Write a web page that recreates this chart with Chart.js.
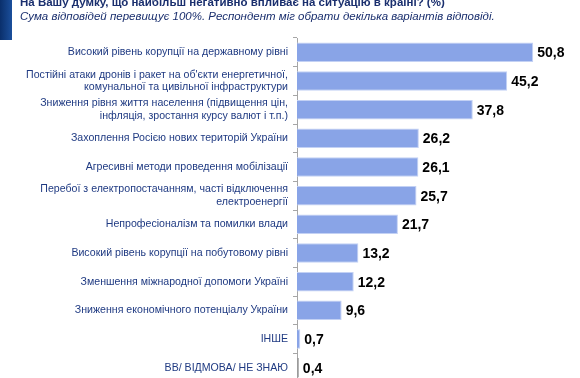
<!DOCTYPE html>
<html>
<head>
<meta charset="utf-8">
<script src="https://cdn.jsdelivr.net/npm/chart.js@4"></script>
<style>
    html, body { margin: 0; padding: 0; background: #fff; overflow: hidden; }
    body { width: 580px; height: 378px; position: relative; font-family: "Liberation Sans", Arial, sans-serif; }
    .band { position: absolute; left: 0; top: 0; width: 12px; height: 40px; background: linear-gradient(90deg, #0a2f6b, #1b4f9c); }
    .title { position: absolute; left: 20px; top: -4px; font-size: 11.5px; font-weight: bold; color: #1a2f6e; white-space: nowrap; }
    .subtitle { position: absolute; left: 20px; top: 10px; font-size: 11.5px; font-style: italic; color: #1a2f6e; white-space: nowrap; }
    .wrap { position: absolute; left: 0; top: 0; width: 580px; height: 400px; }
</style>
</head>
<body>
<div class="wrap"><canvas id="chart" width="580" height="400"></canvas></div>
<div class="band"></div>
<div class="title">На Вашу думку, що найбільш негативно впливає на ситуацію в країні? (%)</div>
<div class="subtitle">Сума відповідей перевищує 100%. Респондент міг обрати декілька варіантів відповіді.</div>
<script>
// Data
const categories = [
    ['Високий рівень корупції на державному рівні'],
    ['Постійні атаки дронів і ракет на об\'єкти енергетичної,', 'комунальної та цивільної інфраструктури'],
    ['Зниження рівня життя населення (підвищення цін,', 'інфляція, зростання курсу валют і т.п.)'],
    ['Захоплення Росією нових територій України'],
    ['Агресивні методи проведення мобілізації'],
    ['Перебої з електропостачанням, часті відключення', 'електроенергії'],
    ['Непрофесіоналізм та помилки влади'],
    ['Високий рівень корупції на побутовому рівні'],
    ['Зменшення міжнародної допомоги Україні'],
    ['Зниження економічного потенціалу України'],
    ['ІНШЕ'],
    ['ВВ/ ВІДМОВА/ НЕ ЗНАЮ']
];
const values = [50.8, 45.2, 37.8, 26.2, 26.1, 25.7, 21.7, 13.2, 12.2, 9.6, 0.7, 0.4];
const xMax = 60;

// Value labels at bar ends
const valueLabels = {
    id: 'valueLabels',
    afterDatasetsDraw(chart) {
        const ctx = chart.ctx;
        const meta = chart.getDatasetMeta(0);
        ctx.save();
        ctx.font = 'bold 14px "Liberation Sans", Arial, sans-serif';
        ctx.fillStyle = '#000';
        ctx.textBaseline = 'middle';
        meta.data.forEach((bar, i) => {
            ctx.fillText(values[i].toFixed(1).replace('.', ','), bar.x + 4, bar.y + 1);
        });
        ctx.restore();
    }
};

const ctx = document.getElementById('chart').getContext('2d');
new Chart(ctx, {
    type: 'bar',
    data: {
        labels: categories,
        datasets: [{
            data: values,
            backgroundColor: (c) => c.dataIndex === values.length - 1 ? '#9a9a9a' : '#89a4e7',
            borderColor: (c) => c.dataIndex === values.length - 1 ? '#9a9a9a' : '#c3d1f4',
            borderWidth: 1,
            barPercentage: 0.68,
            categoryPercentage: 1
        }]
    },
    options: {
        indexAxis: 'y',
        responsive: false,
        animation: false,
        layout: { padding: { top: 38, bottom: 18, left: 0, right: 4 } },
        plugins: {
            legend: { display: false },
            tooltip: { enabled: false }
        },
        scales: {
            x: {
                display: false,
                min: 0,
                max: xMax
            },
            y: {
                afterFit: (scale) => { scale.width = 297; },
                border: { display: true, color: '#a6a6a6', width: 1 },
                grid: { drawOnChartArea: false, drawTicks: true, tickLength: 4, color: '#a6a6a6', offset: true },
                ticks: {
                    autoSkip: false,
                    color: '#1f3a82',
                    padding: 5,
                    font: { family: '"Liberation Sans", Arial, sans-serif', size: 10.6, lineHeight: 1.2 }
                }
            }
        }
    },
    plugins: [valueLabels]
});
</script>
</body>
</html>
